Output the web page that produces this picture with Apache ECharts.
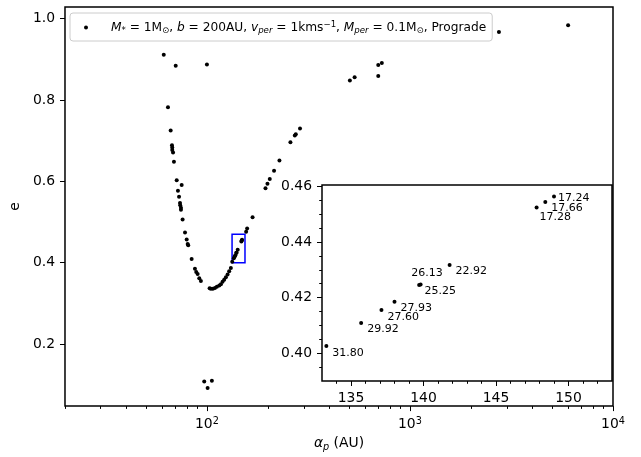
<!DOCTYPE html>
<html>
<head>
<meta charset="utf-8">
<script src="https://cdn.jsdelivr.net/npm/echarts@6/dist/echarts.min.js"></script>
<style>
html, body { margin: 0; padding: 0; background: #fff; }
#chart { width: 641px; height: 457px; }
</style>
</head>
<body>
<div id="chart"></div>
<script>
// semi-major axis (AU) and eccentricity of each run
var mainX = [61.3, 70.2, 100.0, 64.3, 66.3, 67.3, 67.5, 67.5, 68.1, 68.8, 71.0, 75.1, 72.0, 72.9,
    73.7, 73.9, 74.5, 74.5, 75.9, 78.0, 79.5, 80.4, 80.9, 84.1, 87.3, 88.6, 90.0, 91.7, 93.4,
    103.1, 104.6, 107.0, 109.5, 112.0, 115.0, 117.2, 119.4, 121.6, 124.0, 126.4, 128.7, 131.2,
    156.0, 157.8, 167.8, 194.3, 198.7, 204.0, 214.1, 227.6, 257.8, 271.0, 274.0, 287.4,
    506, 534, 698, 698, 727, 2743, 6010, 97.0, 105.8, 100.8];
var mainY = [0.911, 0.884, 0.887, 0.782, 0.725, 0.689, 0.683, 0.677, 0.671, 0.648, 0.603, 0.591, 0.577, 0.562,
    0.547, 0.541, 0.535, 0.530, 0.506, 0.474, 0.457, 0.446, 0.443, 0.409, 0.385, 0.377, 0.372, 0.362, 0.355,
    0.337, 0.336, 0.336, 0.338, 0.341, 0.344, 0.347, 0.353, 0.358, 0.364, 0.371, 0.379, 0.387,
    0.476, 0.484, 0.512, 0.583, 0.594, 0.606, 0.626, 0.651, 0.696, 0.713, 0.716, 0.730,
    0.848, 0.856, 0.859, 0.886, 0.891, 0.967, 0.984, 0.108, 0.110, 0.092];

// zoomed points (also on the main plot) and their annotations
var insetX = [133.3, 135.7, 137.1, 138.0, 139.7, 139.8, 141.8, 147.8, 148.4, 149.0];
var insetY = [0.4026, 0.4109, 0.4155, 0.4185, 0.4245, 0.4247, 0.4317, 0.4524, 0.4544, 0.4564];
var insetLabels = ['31.80', '29.92', '27.60', '27.93', '26.13', '25.25', '22.92', '17.28', '17.66', '17.24'];

// zoom box drawn on the main plot
var boxX = [133, 154];
var boxY = [0.40, 0.47];

// ticks
var mainMajorX = [100, 1000, 10000];
var mainMinorX = [20, 30, 40, 50, 60, 70, 80, 90, 200, 300, 400, 500, 600, 700, 800, 900,
    2000, 3000, 4000, 5000, 6000, 7000, 8000, 9000];
var mainTicksY = [0.2, 0.4, 0.6, 0.8, 1.0];
var insetMajorX = [135, 140, 145, 150];
var insetMinorX = [134, 136, 137, 138, 139, 141, 142, 143, 144, 146, 147, 148, 149, 151, 152];
var insetMajorY = [0.40, 0.42, 0.44, 0.46];
var insetMinorY = [0.395, 0.405, 0.41, 0.415, 0.425, 0.43, 0.435, 0.445, 0.45, 0.455];

var legendName = 'run';

var FONT = 'DejaVu Sans';
var FS = 13.9;
var LFS = 12.2;  // legend text

// where each annotation sits relative to its point (px)
var labelOffsets = [[6, 7], [6, 6], [6, 7], [6, 6], [-8, -12], [4, 7], [6, 6], [3, 10], [6, 6], [4, 2]];

var mainData = [];
for (var i = 0; i < mainX.length; i++) {
    mainData.push([mainX[i], mainY[i]]);
}
for (var i = 0; i < insetX.length; i++) {
    mainData.push([insetX[i], insetY[i]]);
}

var insetData = [];
for (var i = 0; i < insetX.length; i++) {
    insetData.push({
        value: [insetX[i], insetY[i]],
        label: { offset: labelOffsets[i] }
    });
}

var rich = {
    i: { fontFamily: FONT, fontSize: FS, fontStyle: 'italic', color: '#000' },
    sub: { fontFamily: FONT, fontSize: 9.7, color: '#000', padding: [7, 0, 0, 0] },
    subi: { fontFamily: FONT, fontSize: 9.7, fontStyle: 'italic', color: '#000', padding: [7, 0, 0, 0] },
    sup: { fontFamily: FONT, fontSize: 9.7, color: '#000', padding: [0, 0, 7, 0] }
};

var legendRich = {
    t: { fontFamily: FONT, fontSize: LFS, color: '#000' },
    i: { fontFamily: FONT, fontSize: LFS, fontStyle: 'italic', color: '#000' },
    sub: { fontFamily: FONT, fontSize: 8.6, color: '#000', padding: [6, 0, 0, 0] },
    subi: { fontFamily: FONT, fontSize: 8.6, fontStyle: 'italic', color: '#000', padding: [6, 0, 0, 0] },
    sup: { fontFamily: FONT, fontSize: 8.6, color: '#000', padding: [0, 0, 6, 0] },
    sp: { width: 18 }
};

function tickAxis(extra) {
    var base = {
        axisLine: { show: false },
        splitLine: { show: false },
        axisTick: { show: true, length: 5, lineStyle: { color: '#000', width: 1 } },
        axisLabel: { color: '#000', fontFamily: FONT, fontSize: FS, margin: 10 }
    };
    for (var k in extra) {
        if (typeof extra[k] === 'object' && base[k] && !Array.isArray(extra[k])) {
            for (var kk in extra[k]) base[k][kk] = extra[k][kk];
        } else {
            base[k] = extra[k];
        }
    }
    return base;
}

var chart = echarts.init(document.getElementById('chart'));

var option = {
    animation: false,
    backgroundColor: '#fff',
    grid: [
        { left: 63, right: 28, top: 7, bottom: 48, show: true, borderColor: '#000', borderWidth: 1.5, backgroundColor: '#fff' },
        { left: 322, right: 29, top: 185, bottom: 76, show: true, borderColor: '#000', borderWidth: 1.5, backgroundColor: '#fff', z: 5 }
    ],
    legend: {
        data: [legendName],
        left: 70,
        top: 13,
        padding: [7, 6, 6, 14],
        itemWidth: 4,
        itemHeight: 4,
        icon: 'circle',
        selectedMode: false,
        borderColor: '#cccccc',
        borderWidth: 1,
        borderRadius: 3,
        backgroundColor: 'rgba(255,255,255,0.8)',
        textStyle: { fontFamily: FONT, fontSize: LFS, color: '#000', rich: legendRich },
        formatter: function() {
            return '{sp| }{i|M}{sub|*}{t| = 1M}{sub|\u2299}{t|, }{i|b}{t| = 200AU, }{i|v}{subi|per}{t| = 1kms}{sup|\u22121}{t|, }{i|M}{subi|per}{t| = 0.1M}{sub|\u2299}{t|, Prograde}';
        }
    },
    xAxis: [
        tickAxis({
            type: 'log', logBase: 10, gridIndex: 0, position: 'bottom', min: 20, max: 10000,
            axisTick: { customValues: mainMajorX },
            axisLabel: {
                customValues: mainMajorX, rich: rich,
                formatter: function(v) { return '10{sup|' + Math.round(Math.log10(v)) + '}'; }
            },
            name: '{i|\u03b1}{subi|p} (AU)',
            nameLocation: 'middle',
            nameGap: 23,
            nameTextStyle: { fontFamily: FONT, fontSize: FS, color: '#000', rich: rich }
        }),
        tickAxis({
            type: 'log', logBase: 10, gridIndex: 0, position: 'bottom', min: 20, max: 10000,
            axisTick: { customValues: mainMinorX, length: 2.8 },
            axisLabel: { show: false }
        }),
        tickAxis({
            type: 'value', gridIndex: 1, position: 'bottom', min: 133, max: 153, z: 6,
            axisTick: { customValues: insetMajorX },
            axisLabel: { customValues: insetMajorX }
        }),
        tickAxis({
            type: 'value', gridIndex: 1, position: 'bottom', min: 133, max: 153, z: 6,
            axisTick: { customValues: insetMinorX, length: 2.8 },
            axisLabel: { show: false }
        })
    ],
    yAxis: [
        tickAxis({
            type: 'value', gridIndex: 0, position: 'left', min: 0.0475, max: 1.0286,
            axisTick: { customValues: mainTicksY },
            axisLabel: {
                customValues: mainTicksY,
                formatter: function(v) { return v.toFixed(1); }
            },
            name: 'e',
            nameLocation: 'middle',
            nameGap: 38,
            nameRotate: 90,
            nameTextStyle: { fontFamily: FONT, fontSize: FS, color: '#000' }
        }),
        tickAxis({
            type: 'value', gridIndex: 1, position: 'left', min: 0.39, max: 0.4605, z: 6,
            axisTick: { customValues: insetMajorY },
            axisLabel: {
                customValues: insetMajorY,
                formatter: function(v) { return v.toFixed(2); }
            }
        }),
        tickAxis({
            type: 'value', gridIndex: 1, position: 'left', min: 0.39, max: 0.4605, z: 6,
            axisTick: { customValues: insetMinorY, length: 2.8 },
            axisLabel: { show: false }
        })
    ],
    series: [
        {
            name: legendName,
            type: 'scatter',
            xAxisIndex: 0,
            yAxisIndex: 0,
            symbolSize: 4,
            itemStyle: { color: '#000', opacity: 1 },
            data: mainData,
            markArea: {
                silent: true,
                itemStyle: { color: 'rgba(0,0,0,0)', borderColor: '#0000ff', borderWidth: 1.5 },
                data: [[{ coord: [boxX[0], boxY[0]] }, { coord: [boxX[1], boxY[1]] }]]
            }
        },
        {
            name: 'inset',
            type: 'scatter',
            xAxisIndex: 2,
            yAxisIndex: 1,
            symbolSize: 4,
            z: 7,
            itemStyle: { color: '#000', opacity: 1 },
            data: insetData,
            label: {
                show: true,
                position: 'inside',
                align: 'left',
                verticalAlign: 'middle',
                fontFamily: FONT,
                fontSize: 11,
                color: '#000',
                formatter: function(p) { return insetLabels[p.dataIndex]; }
            }
        }
    ]
};

chart.setOption(option);
</script>
</body>
</html>
